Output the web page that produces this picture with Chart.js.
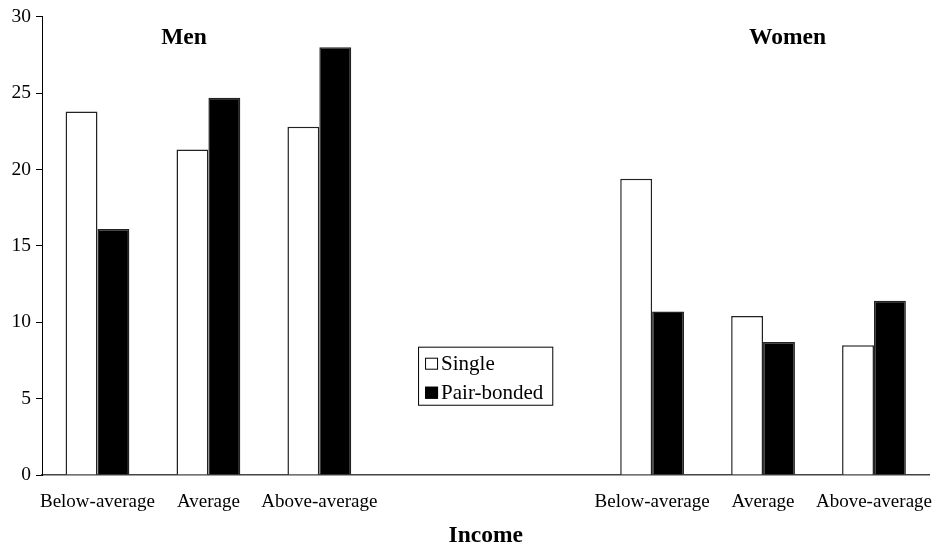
<!DOCTYPE html>
<html lang="en">
<head>
    <meta charset="utf-8">
    <title>Income - Men / Women</title>
    <script src="https://cdn.jsdelivr.net/npm/chart.js"></script>
    <style>
        html, body {
            margin: 0;
            padding: 0;
            background: #ffffff;
        }
        .chart-container {
            position: relative;
            width: 940px;
            height: 548px;
        }
    </style>
</head>
<body>

    <div class="chart-container">
        <canvas id="incomeChart"></canvas>
    </div>

    <script>
        // Data
        const incomeLabels = ['Below-average', 'Average', 'Above-average', '', '', 'Below-average', 'Average', 'Above-average'];
        const singleValues = [23.8, 21.3, 22.8, null, null, 19.4, 10.4, 8.5];
        const pairBondedValues = [16.1, 24.7, 28.0, null, null, 10.7, 8.7, 11.4];
        const yTicks = [0, 5, 10, 15, 20, 25, 30];
        const groupTitles = ['Men', 'Women'];
        const seriesNames = ['Single', 'Pair-bonded'];

        const serif = "'Liberation Serif', 'Times New Roman', serif";

        // Draws the "Men" / "Women" headers and the boxed legend inside the plot
        const annotations = {
            id: 'annotations',
            afterDraw(chart) {
                const c = chart.ctx;
                const x = chart.scales.x;
                const y = chart.scales.y;

                c.save();
                c.fillStyle = '#000';
                c.font = 'bold 23.5px ' + serif;
                c.textAlign = 'center';
                c.textBaseline = 'alphabetic';
                c.fillText(groupTitles[0], x.getPixelForValue(0.78), y.getPixelForValue(28.2));
                c.fillText(groupTitles[1], x.getPixelForValue(6.22), y.getPixelForValue(28.2));

                // legend box
                const left = x.getPixelForValue(2.89);
                const right = x.getPixelForValue(4.1);
                const top = y.getPixelForValue(8.4);
                const bottom = y.getPixelForValue(4.6);
                c.strokeStyle = '#000';
                c.lineWidth = 1;
                c.strokeRect(left + 0.5, top + 0.5, right - left, bottom - top);

                const rowH = (bottom - top) / 2;
                c.font = '21px ' + serif;
                c.textAlign = 'left';
                seriesNames.forEach((name, i) => {
                    const base = top + rowH * (i + 1) - 6;
                    const mx = left + 7;
                    c.fillStyle = i === 0 ? '#fff' : '#000';
                    c.fillRect(mx, base - 12, 13, 12);
                    c.strokeStyle = '#000';
                    c.strokeRect(mx + 0.5, base - 12 + 0.5, 12, 11);
                    c.fillStyle = '#000';
                    c.fillText(name, mx + 16, base);
                });
                c.restore();
            }
        };

        const ctx = document.getElementById('incomeChart').getContext('2d');
        new Chart(ctx, {
            type: 'bar',
            data: {
                labels: incomeLabels,
                datasets: [{
                    label: seriesNames[0],
                    data: singleValues,
                    backgroundColor: '#ffffff',
                    borderColor: '#222222',
                    borderWidth: 1.5
                }, {
                    label: seriesNames[1],
                    data: pairBondedValues,
                    backgroundColor: '#000000',
                    borderColor: '#222222',
                    borderWidth: 1.5
                }]
            },
            options: {
                responsive: true,
                maintainAspectRatio: false,
                animation: false,
                categoryPercentage: 0.575,
                barPercentage: 1,
                layout: { padding: { top: 8, right: 0, left: 0, bottom: 0 } },
                plugins: {
                    legend: { display: false },
                    tooltip: { enabled: false }
                },
                scales: {
                    x: {
                        grid: { display: false },
                        border: { display: true, color: '#444', width: 1.5 },
                        ticks: {
                            color: '#000',
                            font: { family: serif, size: 19 },
                            padding: 8,
                            maxRotation: 0,
                            autoSkip: false
                        },
                        title: {
                            display: true,
                            text: 'Income',
                            color: '#000',
                            font: { family: serif, size: 23.5, weight: 'bold', lineHeight: 1 },
                            padding: { top: 0, bottom: 0 }
                        },
                        afterFit(scale) { scale.height = 73; }
                    },
                    y: {
                        min: 0,
                        max: 30,
                        afterBuildTicks(scale) {
                            scale.ticks = yTicks.map(v => ({ value: v }));
                        },
                        grid: {
                            drawOnChartArea: false,
                            drawTicks: true,
                            tickLength: 6,
                            color: '#000',
                            lineWidth: 1
                        },
                        border: { display: true, color: '#000', width: 1 },
                        ticks: {
                            color: '#000',
                            font: { family: serif, size: 19.5 },
                            padding: 5
                        },
                        afterFit(scale) { scale.width = 42; }
                    }
                }
            },
            plugins: [annotations]
        });
    </script>

</body>
</html>
